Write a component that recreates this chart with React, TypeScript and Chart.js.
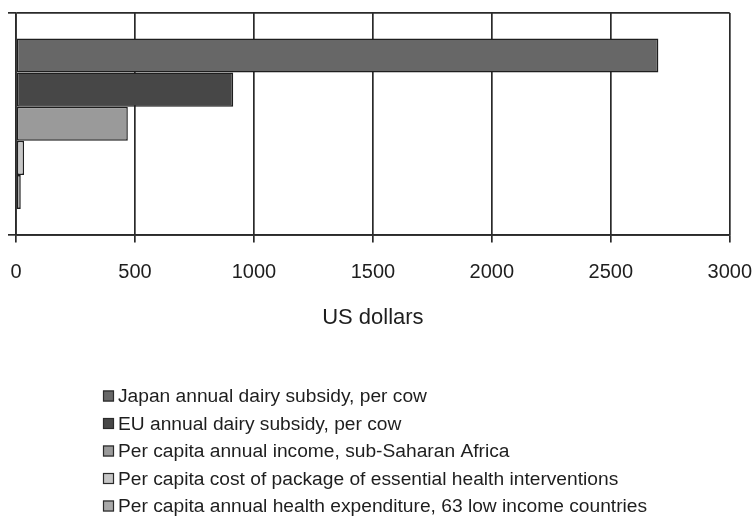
import React, { useEffect, useRef } from "react";
import { Chart, registerables } from "chart.js";

Chart.register(...registerables);

// Series names and values (US dollars)
const seriesLabels = [
  "Japan annual dairy subsidy, per cow",
  "EU annual dairy subsidy, per cow",
  "Per capita annual income, sub-Saharan Africa",
  "Per capita cost of package of essential health interventions",
  "Per capita annual health expenditure, 63 low income countries",
];
const seriesValues = [2700, 913, 470, 34, 20];
const seriesColors = ["#676767", "#474747", "#9a9a9a", "#c6c6c6", "#a9a9a9"];

const categories = [""];
const axisMin = 0;
const axisMax = 3000;
const axisStep = 500;
const axisTitle = "US dollars";

const FONT = "'Liberation Sans', Arial, Helvetica, sans-serif";
const INK = "#1e1e1e";
const LINE = "#2a2a2a";

// Stacked legend drawn beneath the axis, one entry per row
const stackedLegend = {
  id: "stackedLegend",
  afterDraw(chart: any) {
    const { ctx } = chart;
    const x0 = 103;
    const firstRow = 396;
    const rowGap = 27.5;
    const box = 11;
    ctx.save();
    ctx.font = `19.2px ${FONT}`;
    ctx.textBaseline = "middle";
    ctx.textAlign = "left";
    chart.data.datasets.forEach((ds: any, i: number) => {
      const cy = firstRow + i * rowGap;
      ctx.fillStyle = ds.backgroundColor;
      ctx.fillRect(x0, cy - box / 2, box, box);
      ctx.strokeStyle = "#2a2a2a";
      ctx.lineWidth = 1.2;
      ctx.strokeRect(x0 + 0.5, cy - box / 2 + 0.5, box - 1, box - 1);
      ctx.fillStyle = INK;
      ctx.fillText(ds.label, x0 + 15, cy + 1);
    });
    ctx.restore();
  },
};

export default function App() {
  const canvasRef = useRef<HTMLCanvasElement | null>(null);

  useEffect(() => {
    if (!canvasRef.current) return;
    const chart = new Chart(canvasRef.current, {
      type: "bar",
      data: {
        labels: categories,
        datasets: seriesLabels.map((label, i) => ({
          label,
          data: [seriesValues[i]],
          backgroundColor: seriesColors[i],
          borderColor: "#1e1e1e",
          borderWidth: 1.5,
          borderSkipped: false,
          categoryPercentage: 0.77,
          barPercentage: 1,
        })),
      },
      options: {
        indexAxis: "y",
        animation: false,
        responsive: false,
        layout: { padding: { left: 8, top: 13, right: 25, bottom: 192 } },
        plugins: {
          legend: { display: false },
          tooltip: { enabled: false },
        },
        scales: {
          x: {
            min: axisMin,
            max: axisMax,
            ticks: {
              stepSize: axisStep,
              color: INK,
              padding: 3,
              font: { family: FONT, size: 20, lineHeight: 2.65 },
              callback: (v: any) => String(v),
            },
            grid: { color: LINE, lineWidth: 1.7, tickLength: 8 },
            border: { color: LINE, width: 1.7 },
            title: {
              display: true,
              text: axisTitle,
              color: INK,
              font: { family: FONT, size: 22 },
              padding: { top: 3, bottom: 4 },
            },
          },
          y: {
            ticks: { display: false },
            grid: { color: LINE, lineWidth: 1.7, tickLength: 8, offset: true },
            border: { color: LINE, width: 1.7 },
          },
        },
      },
      plugins: [stackedLegend],
    });
    return () => chart.destroy();
  }, []);

  return (
    <div style={{ position: "absolute", left: 0, top: 0, width: 755, height: 527, background: "#fff" }}>
      <canvas ref={canvasRef} width={755} height={527} style={{ display: "block" }} />
    </div>
  );
}
